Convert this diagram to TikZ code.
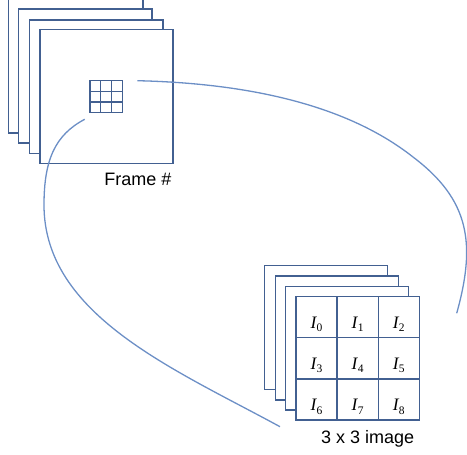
\documentclass[tikz,border=0pt]{standalone}
\usepackage{fontspec}
\setmainfont{Liberation Sans}
\newfontfamily\serifI{Liberation Serif}
\usetikzlibrary{calc}

\definecolor{framecol}{RGB}{66,96,145}
\definecolor{arccol}{RGB}{108,143,198}

\tikzset{
  frame/.style={draw=framecol, line width=1.5pt, fill=white, inner sep=0pt,
                outer sep=0pt, anchor=north west},
  gridline/.style={draw=framecol, line width=1.3pt},
  loopline/.style={draw=arccol, line width=1.3pt},
  caption/.style={font=\fontsize{18}{20}\selectfont, anchor=base, inner sep=0pt},
  pixlabel/.style={font=\serifI\fontsize{17.5}{19}\selectfont, anchor=base, inner sep=0pt},
}
% italic I with an upright subscript index
\newcommand\pix[1]{{\itshape I}\kern0.3pt\raisebox{-3.6pt}{\fontsize{11.5}{12}\selectfont #1}}

\begin{document}
\begin{tikzpicture}[x=1pt, y=-1pt]
\useasboundingbox (0,0) rectangle (467,455);

% stack of video frames
\node[frame, minimum width=134.5pt, minimum height=133.7pt] (f1) at (8.5,-0.7) {};
\node[frame, minimum width=133.7pt, minimum height=134pt]   (f2) at (18.5,9.2) {};
\node[frame, minimum width=133.7pt, minimum height=133.5pt] (f3) at (29.3,19.8) {};
\node[frame, minimum width=133pt,   minimum height=134pt]   (f4) at (40,29.3) {};

% small 3x3 window inside the front frame
\node[frame, minimum width=32.3pt, minimum height=32pt] (sg) at (90,80.7) {};
\foreach \t in {1,2}{
  \draw[gridline] ($(sg.north west)!\t/3!(sg.north east)$) -- ($(sg.south west)!\t/3!(sg.south east)$);
  \draw[gridline] ($(sg.north west)!\t/3!(sg.south west)$) -- ($(sg.north east)!\t/3!(sg.south east)$);
}
\node[caption] (framecap) at (138,185.7) {Frame \#};

% stack of 3x3 images
\node[frame, minimum width=123pt, minimum height=124pt] (b1) at (264.7,265.3) {};
\node[frame, minimum width=123pt, minimum height=124pt] (b2) at (275.5,276) {};
\node[frame, minimum width=123pt, minimum height=123.5pt] (b3) at (285.7,286.7) {};

% front image split into 3x3 cells
\node[frame, minimum width=123.3pt, minimum height=123.3pt] (img) at (296,296.7) {};
\foreach \t in {1,2}{
  \draw[gridline] ($(img.north west)!\t/3!(img.north east)$) -- ($(img.south west)!\t/3!(img.south east)$);
  \draw[gridline] ($(img.north west)!\t/3!(img.south west)$) -- ($(img.north east)!\t/3!(img.south east)$);
}
\foreach \r in {0,1,2}{
  \foreach \c in {0,1,2}{
    \pgfmathtruncatemacro\k{3*\r+\c}
    \node[pixlabel] (l\k) at ($(img.north west)+(20.55+41.1*\c,31.5+41.1*\r)$) {\pix{\k}};
  }
}
\node[caption] (imgcap) at (367.7,443.3) {3 x 3 image};

% loop joining the window and the image stack
\coordinate (s1) at (137.3,80.7);
\coordinate (m1) at (413,157);
\coordinate (e1) at (456.7,313.3);
\draw[loopline] (s1) .. controls (237,83) and (342,101) .. (m1)
                     .. controls (470,200) and (476,244) .. (e1);

\coordinate (s2) at (84.7,119.3);
\coordinate (m2) at (44,205);
\coordinate (e2) at (280,426.7);
\draw[loopline] (s2) .. controls (55,135) and (44,160) .. (m2)
                     .. controls (44,315) and (174,369) .. (e2);
\end{tikzpicture}
\end{document}
